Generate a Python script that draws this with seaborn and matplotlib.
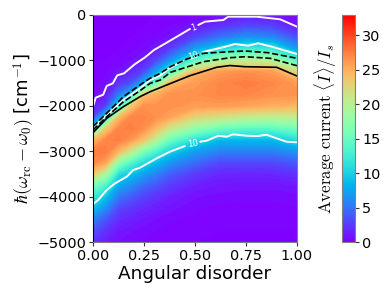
import numpy as np
import matplotlib
matplotlib.use("Agg")
import matplotlib.pyplot as plt
import seaborn as sns

# grid
disorder = [0, 0.0625, 0.125, 0.1875, 0.25, 0.3125, 0.375, 0.5, 0.625, 0.75, 0.875, 1.0]
detuning = [0, -250, -500, -750, -1000, -1250, -1500, -1750, -2000, -2250, -2500,
            -2750, -3000, -3250, -3500, -3750, -4000, -4250, -4500, -4750, -5000]

current_000 = [0, 0, 0, 0, 0, 0.1, 0.2, 0.5, 1, 3, 10, 24, 27.5, 27, 23, 16, 12, 9, 5.5, 3.5, 2]
current_062 = [0, 0, 0, 0, 0, 0.2, 0.5, 1, 2.5, 9.5, 23, 27, 27.5, 25.5, 19, 13, 9, 6, 3.5, 2, 1.2]
current_125 = [0, 0, 0, 0, 0.2, 0.8, 2, 5, 10.5, 24, 27, 27.5, 24.5, 17, 11, 7.5, 5, 3, 1.8, 1, 0.6]
current_188 = [0, 0, 0, 0.2, 0.6, 1.5, 3.5, 9, 23, 27, 27.5, 26, 20.5, 13.5, 9, 6, 3.8, 2.2, 1.3, 0.7, 0.4]
current_250 = [0, 0, 0.2, 0.5, 1.2, 3, 8, 23.5, 26.5, 27, 26.5, 23.5, 16, 10.5, 7, 4.5, 2.8, 1.6, 0.9, 0.5, 0.3]
current_312 = [0, 0.1, 0.4, 1, 3, 7.5, 16, 25, 26.5, 26.5, 24, 19.5, 13, 8.5, 5.5, 3.5, 2, 1.2, 0.6, 0.3, 0.2]
current_375 = [0, 0.3, 0.8, 2.5, 6, 13, 24, 26.5, 26.5, 25.5, 21, 15, 10, 6.5, 4, 2.5, 1.3, 0.8, 0.4, 0.2, 0.1]
current_500 = [0.1, 1, 3, 7, 14, 24.5, 26, 26.5, 26, 22.5, 17.5, 11, 7, 4.5, 2.5, 1.3, 0.7, 0.4, 0.2, 0.1, 0]
current_625 = [0.5, 2.2, 5, 10.5, 19, 26, 27, 27, 26, 21.5, 15, 8.5, 5.5, 3, 1.6, 0.9, 0.5, 0.2, 0.1, 0, 0]
current_750 = [1, 3, 6.5, 12.5, 20, 26.5, 27.5, 27, 25.5, 20.5, 14, 8.5, 5.5, 3, 1.5, 0.8, 0.4, 0.2, 0.1, 0, 0]
current_875 = [0.8, 2.8, 6, 12, 19.5, 26, 27, 26.5, 25, 20, 14, 8.5, 5.5, 3, 1.6, 0.8, 0.4, 0.2, 0.1, 0, 0]
current_100 = [0.3, 1, 3.5, 7, 13.5, 22, 26, 26.5, 24.5, 20.5, 15.5, 10.7, 6.5, 3.8, 2, 1, 0.5, 0.3, 0.1, 0, 0]

# white contour of level 1 (broken at its label)
one_x_a = [0, 0.013, 0.05, 0.067, 0.097, 0.119, 0.152, 0.206, 0.255, 0.299, 0.361, 0.475]
one_y_a = [-2020, -1822, -1755, -1564, -1505, -1329, -1285, -1080, -933, -771, -610, -308]
one_x_b = [0.516, 0.549, 0.639, 0.663, 0.802, 0.917, 1.0]
one_y_b = [-220, -147, -110, -37, -37, -95, -257]

# white contour of level 10, upper branch
ten_up_x_a = [0, 0.05, 0.149, 0.23, 0.28, 0.32, 0.375, 0.44]
ten_up_y_a = [-2496, -2276, -1873, -1615, -1432, -1359, -1174, -1013]
ten_up_x_b = [0.54, 0.649, 0.696, 0.76, 0.809, 0.876, 1.0]
ten_up_y_b = [-815, -698, -639, -676, -623, -698, -859]

# white contour of level 10, lower branch
ten_low_x_a = [0, 0.025, 0.067, 0.108, 0.165, 0.197, 0.23, 0.312, 0.377, 0.45]
ten_low_y_a = [-4164, -4076, -3855, -3708, -3562, -3415, -3364, -3157, -3011, -2886]
ten_low_x_b = [0.525, 0.557, 0.614, 0.655, 0.687, 0.752, 0.808, 0.85, 0.948, 1.0]
ten_low_y_b = [-2791, -2769, -2659, -2681, -2628, -2659, -2666, -2637, -2791, -2804]

# black lines
solid_x = [0, 0.067, 0.149, 0.23, 0.28, 0.361, 0.475, 0.606, 0.671, 0.745, 0.90, 1.0]
solid_y = [-2593, -2276, -2020, -1800, -1690, -1542, -1337, -1152, -1113, -1139, -1152, -1344]
dash_up_x = [0, 0.05, 0.149, 0.23, 0.28, 0.33, 0.38, 0.46, 0.541, 0.671, 0.745, 0.858, 1.0]
dash_up_y = [-2461, -2240, -1800, -1542, -1394, -1284, -1139, -969, -844, -808, -793, -830, -954]
dash_low_x = [0, 0.05, 0.149, 0.23, 0.28, 0.33, 0.38, 0.46, 0.541, 0.671, 0.745, 0.868, 1.0]
dash_low_y = [-2533, -2313, -1910, -1668, -1505, -1432, -1262, -1146, -1029, -941, -919, -954, -1117]

xticks = [0, 0.25, 0.5, 0.75, 1.0]
yticks = [0, -1000, -2000, -3000, -4000, -5000]
cbar_ticks = [0, 5, 10, 15, 20, 25, 30]
cbar_max = 32.9

sns.set_style("white")
plt.rcParams["mathtext.fontset"] = "cm"
plt.rcParams["text.color"] = "black"
plt.rcParams["axes.labelcolor"] = "black"
plt.rcParams["xtick.color"] = "black"
plt.rcParams["ytick.color"] = "black"
cmap = sns.color_palette("rainbow", as_cmap=True)

fig = plt.figure(figsize=(3.9, 2.93), dpi=100)
ax = fig.add_axes([93 / 390, 1 - 242 / 293, 204 / 390, 227 / 293])

table = np.column_stack([current_000, current_062, current_125, current_188, current_250, current_312,
                         current_375, current_500, current_625, current_750, current_875, current_100])
levels = np.linspace(0, cbar_max, 100)
ax.contourf(disorder, detuning, table, levels=levels, cmap=cmap, extend="both")

for xs, ys in [(one_x_a, one_y_a), (one_x_b, one_y_b), (ten_up_x_a, ten_up_y_a),
               (ten_up_x_b, ten_up_y_b), (ten_low_x_a, ten_low_y_a), (ten_low_x_b, ten_low_y_b)]:
    sns.lineplot(x=xs, y=ys, ax=ax, sort=False, estimator=None, color="white", linewidth=1.4)
sns.lineplot(x=dash_up_x, y=dash_up_y, ax=ax, sort=False, estimator=None, color="black",
             linewidth=1.2, linestyle="--")
sns.lineplot(x=dash_low_x, y=dash_low_y, ax=ax, sort=False, estimator=None, color="black",
             linewidth=1.2, linestyle="--")
sns.lineplot(x=solid_x, y=solid_y, ax=ax, sort=False, estimator=None, color="black", linewidth=1.2)

ax.text(0.495, -270, "1", color="white", fontsize=6, ha="center", va="center", rotation=20)
ax.text(0.49, -910, "10", color="white", fontsize=6, ha="center", va="center", rotation=18)
ax.text(0.488, -2835, "10", color="white", fontsize=6, ha="center", va="center", rotation=8)

ax.set_xlim(0, 1)
ax.set_ylim(-5000, 0)
ax.set_xticks(xticks)
ax.set_xticklabels(["0.00", "0.25", "0.50", "0.75", "1.00"])
ax.set_yticks(yticks)
ax.tick_params(left=True, bottom=True, labelsize=10.4, length=3, width=0.8, pad=2, color="#333333")
ax.set_xlabel("Angular disorder", fontsize=13.3, labelpad=1.5)
ax.set_ylabel(r"$\hbar(\omega_{\mathrm{rc}}-\omega_0)$ [cm$^{-1}$]", fontsize=13, labelpad=0)
for name, spine in ax.spines.items():
    spine.set_visible(True)
    spine.set_linewidth(0.8)
    spine.set_color("black" if name == "left" else "#808080")

# colorbar
cax = fig.add_axes([342 / 390, 1 - 242 / 293, 13 / 390, 227 / 293])
sm = plt.cm.ScalarMappable(norm=plt.Normalize(0, cbar_max), cmap=cmap)
cbar = fig.colorbar(sm, cax=cax)
cbar.set_ticks(cbar_ticks)
cbar.ax.tick_params(right=True, labelsize=10.4, length=3, width=0.8, pad=2, color="#333333")
cbar.outline.set_edgecolor("#808080")
cbar.outline.set_linewidth(0.8)
cbar.ax.yaxis.set_label_position("left")
cbar.set_label(r"$\mathrm{Average\ current}\ \langle I\rangle/I_s$", fontsize=12.2, labelpad=2)

plt.savefig("out.png", dpi=100)
plt.close()
